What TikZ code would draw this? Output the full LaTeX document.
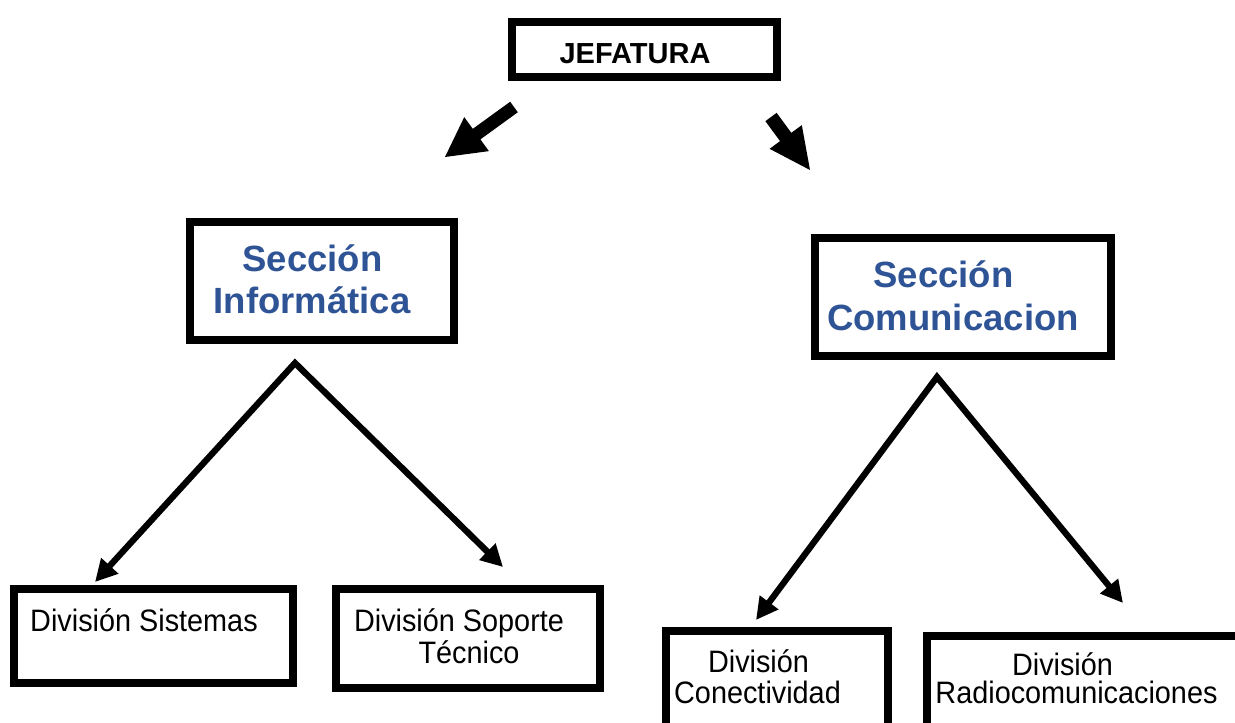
\documentclass[tikz,border=0pt]{standalone}
\usepackage{fontspec}
\setmainfont{Liberation Sans}
\newfontfamily\divfont[FakeStretch=0.93]{Liberation Sans}
\usetikzlibrary{arrows.meta,calc}
\definecolor{secblue}{HTML}{2F5496}
\tikzset{
  boxnode/.style={draw=black, line width=8pt, inner sep=0pt, outer sep=0pt, fill=white},
  bigtxt/.style={anchor=base, inner sep=0pt, font=\fontsize{36.5pt}{40pt}\selectfont\bfseries, text=secblue},
  toptxt/.style={anchor=base, inner sep=0pt, font=\fontsize{29pt}{33pt}\selectfont\bfseries},
  divtxt/.style={anchor=base, inner sep=0pt, font=\divfont\fontsize{31pt}{35pt}\selectfont},
  conn/.style={line width=6.3pt, line join=miter, >={Triangle[length=22pt,width=22pt]}, <->},
}
\begin{document}
\begin{tikzpicture}[x=1pt,y=-1pt]
\useasboundingbox (0,0) rectangle (1235,723);
\fill[white] (0,0) rectangle (1235,723);

% boxes
\node[boxnode, minimum width=265pt, minimum height=55pt] (jef) at (644.5,49.5) {};
\node[boxnode, minimum width=264pt, minimum height=118pt] (secinf) at (322,281) {};
\node[boxnode, minimum width=296pt, minimum height=118pt] (seccom) at (963,297) {};
\node[boxnode, minimum width=279pt, minimum height=94pt] (dsis) at (153.5,636) {};
\node[boxnode, minimum width=264pt, minimum height=99pt] (dsop) at (468,638.5) {};
\node[boxnode, minimum width=222pt, minimum height=96pt] (dcon) at (777,679) {};
\node[boxnode, minimum width=318pt, minimum height=94pt] (drad) at (1086,683) {};

% texts
\node[toptxt] (tjef) at (635,63) {JEFATURA};
\node[bigtxt] (tinf1) at (312.5,271) {Sección};
\node[bigtxt] (tinf2) at (312,313) {Informática};
\node[bigtxt] (tcom1) at (943.5,287) {Sección};
\node[bigtxt] (tcom2) at (953,330) {Comunicacion};
\node[divtxt] (tsis) at (144,631) {División Sistemas};
\node[divtxt] (tsop1) at (459,631) {División Soporte};
\node[divtxt] (tsop2) at (469,663) {Técnico};
\node[divtxt] (tcon1) at (758.5,672) {División};
\node[divtxt] (tcon2) at (757.5,703) {Conectividad};
\node[divtxt] (trad1) at (1062.5,675) {División};
\node[divtxt] (trad2) at (1076.5,703) {Radiocomunicaciones};

% block arrows from JEFATURA
\coordinate (bt1) at (514,107);
\coordinate (bp1) at (445,157);
\coordinate (bb1) at ($(bp1)!39pt!(bt1)$);
\fill[black] ($(bt1)!6.5pt!90:(bp1)$) -- ($(bb1)!6.5pt!90:(bp1)$) -- ($(bb1)!21pt!90:(bp1)$) -- (bp1)
  -- ($(bb1)!21pt!-90:(bp1)$) -- ($(bb1)!6.5pt!-90:(bp1)$) -- ($(bt1)!6.5pt!-90:(bp1)$) -- cycle;

\coordinate (bt2) at (771,117);
\coordinate (bp2) at (810,170);
\coordinate (bb2) at ($(bp2)!41pt!(bt2)$);
\fill[black] ($(bt2)!7pt!90:(bp2)$) -- ($(bb2)!7pt!90:(bp2)$) -- ($(bb2)!20pt!90:(bp2)$) -- (bp2)
  -- ($(bb2)!20pt!-90:(bp2)$) -- ($(bb2)!7pt!-90:(bp2)$) -- ($(bt2)!7pt!-90:(bp2)$) -- cycle;

% branching arrows
\coordinate (ap1) at (295,363);
\coordinate (tip1) at (95,582);
\coordinate (tip2) at (503,567);
\draw[conn] (tip1) -- (ap1) -- (tip2);

\coordinate (ap2) at (937,377);
\coordinate (tip3) at (756,620);
\coordinate (tip4) at (1123,603);
\draw[conn] (tip3) -- (ap2) -- (tip4);
\end{tikzpicture}
\end{document}
